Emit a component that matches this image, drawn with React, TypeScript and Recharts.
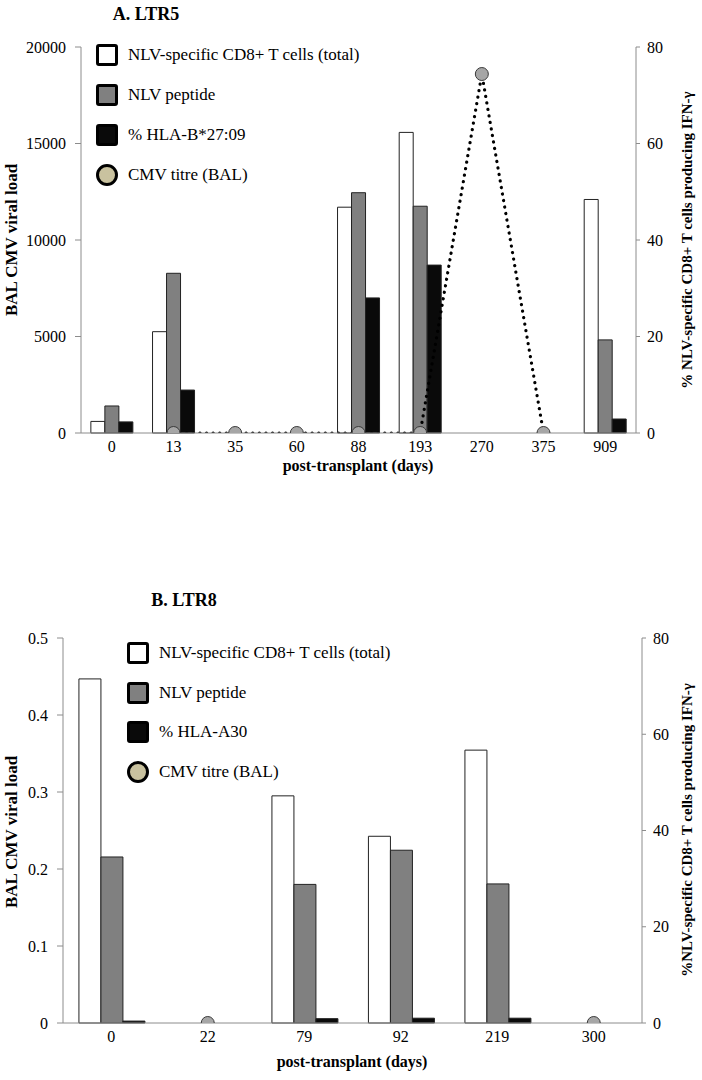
// Two-panel figure: NLV-specific CD8+ T cell responses vs BAL CMV titre (LTR5, LTR8)
import { ComposedChart, Bar, Line, XAxis, YAxis } from 'recharts'

const FONT = 'Liberation Serif, DejaVu Serif, serif'

// Panel A: LTR5
const daysA = ['0', '13', '35', '60', '88', '193', '270', '375', '909']
const totalA = [2.4, 21.0, null, null, 46.8, 62.3, null, null, 48.4]
const peptideA = [5.6, 33.1, null, null, 49.8, 47.0, null, null, 19.3]
const hlaA = [2.3, 8.9, null, null, 28.0, 34.8, null, null, 2.9]
const titreA = [null, 0, 0, 0, 0, 0, 18600, 0, null]

// Panel B: LTR8
const daysB = ['0', '22', '79', '92', '219', '300']
const totalB = [71.5, null, 47.2, 38.8, 56.7, null]
const peptideB = [34.5, null, 28.8, 35.9, 28.9, null]
const hlaB = [0.4, null, 0.9, 1.0, 1.0, null]
const titreB = [null, 0, null, null, null, 0]

const leftTicksA = [0, 5000, 10000, 15000, 20000]
const leftTicksB = [0, 0.1, 0.2, 0.3, 0.4, 0.5]
const rightTicks = [0, 20, 40, 60, 80]

const COLORS = { total: '#ffffff', peptide: '#808080', hla: '#0a0a0a', dot: '#a6a6a6', legendDot: '#c9c29f' }
const AXIS = '#8c8c8c'

const build = (days: string[], total: any[], peptide: any[], hla: any[], titre: any[]) =>
  days.map((d, i) => ({ day: d, total: total[i], peptide: peptide[i], hla: hla[i], titre: titre[i] }))

const tickStyle = { fill: '#000', fontSize: 16, fontFamily: FONT }

// circle marker drawn by hand so it doesn't inherit the line's dash pattern
const TitreDot = (props: any) => {
  const { cx, cy, value, index } = props
  if (value == null || cx == null || cy == null) return <g key={index} />
  return <circle key={index} cx={cx} cy={cy} r={6.5} fill={COLORS.dot} stroke="#3a3a3a" strokeWidth={1} />
}

function Legend({ x, y, gap, labels }: { x: number; y: number; gap: number; labels: string[] }) {
  const fills = [COLORS.total, COLORS.peptide, COLORS.hla, COLORS.legendDot]
  return (
    <>
      {labels.map((l, i) => (
        <div key={i} style={{ position: 'absolute', left: x, top: y + i * gap - 11, height: 22, display: 'flex', alignItems: 'center' }}>
          <div
            style={{
              width: 16,
              height: 16,
              background: fills[i],
              border: '3px solid #000',
              borderRadius: i === 3 ? '50%' : 3,
            }}
          />
          <span style={{ marginLeft: 10, fontSize: 17, fontFamily: FONT, whiteSpace: 'nowrap' }}>{l}</span>
        </div>
      ))}
    </>
  )
}

function VText({ x, y, text, size = 15 }: { x: number; y: number; text: string; size?: number }) {
  return (
    <div
      style={{
        position: 'absolute',
        left: x,
        top: y,
        transform: 'translate(-50%, -50%) rotate(-90deg)',
        fontFamily: FONT,
        fontWeight: 'bold',
        fontSize: size,
        whiteSpace: 'nowrap',
      }}
    >
      {text}
    </div>
  )
}

function HText({ x, y, text, size = 15 }: { x: number; y: number; text: string; size?: number }) {
  return (
    <div
      style={{
        position: 'absolute',
        left: x,
        top: y,
        transform: 'translate(-50%, -50%)',
        fontFamily: FONT,
        fontWeight: 'bold',
        fontSize: size,
        whiteSpace: 'nowrap',
      }}
    >
      {text}
    </div>
  )
}

function Panel({ data, top, height, margin, leftDomain, leftTicks, leftWidth, gap }: any) {
  return (
    <div style={{ position: 'absolute', left: 0, top }}>
      <ComposedChart width={702} height={height} data={data} margin={margin} barCategoryGap={gap} barGap={0}>
        <XAxis dataKey="day" tickLine={false} axisLine={{ stroke: AXIS }} tick={tickStyle} height={30} interval={0} />
        <YAxis
          yAxisId="left"
          domain={leftDomain}
          ticks={leftTicks}
          width={leftWidth}
          tick={tickStyle}
          tickSize={6}
          tickMargin={9}
          axisLine={{ stroke: AXIS }}
          tickLine={{ stroke: AXIS }}
          allowDataOverflow
        />
        <YAxis
          yAxisId="right"
          orientation="right"
          domain={[0, 80]}
          ticks={rightTicks}
          width={40}
          tick={tickStyle}
          tickSize={4}
          tickMargin={7}
          axisLine={{ stroke: AXIS }}
          tickLine={{ stroke: AXIS }}
        />
        <Bar yAxisId="right" dataKey="total" fill={COLORS.total} stroke="#222" strokeWidth={1} isAnimationActive={false} />
        <Bar yAxisId="right" dataKey="peptide" fill={COLORS.peptide} stroke="#222" strokeWidth={1} isAnimationActive={false} />
        <Bar yAxisId="right" dataKey="hla" fill={COLORS.hla} stroke="#222" strokeWidth={1} isAnimationActive={false} />
        <Line
          yAxisId="left"
          dataKey="titre"
          type="linear"
          stroke="#000"
          strokeWidth={3.2}
          strokeDasharray="0.1 6.5"
          strokeLinecap="round"
          dot={TitreDot}
          activeDot={false}
          isAnimationActive={false}
        />
      </ComposedChart>
    </div>
  )
}

export default function App() {
  const dataA = build(daysA, totalA, peptideA, hlaA, titreA)
  const dataB = build(daysB, totalB, peptideB, hlaB, titreB)
  return (
    <div style={{ position: 'absolute', left: 0, top: 0, width: 702, height: 1080, background: '#fff' }}>
      <Panel
        data={dataA}
        top={0}
        height={480}
        margin={{ top: 47, right: 26, bottom: 17, left: 21 }}
        leftDomain={[0, 20000]}
        leftTicks={leftTicksA}
        leftWidth={60}
        gap="16%"
      />
      <Panel
        data={dataB}
        top={540}
        height={540}
        margin={{ top: 98, right: 20, bottom: 27, left: 19 }}
        leftDomain={[0, 0.5]}
        leftTicks={leftTicksB}
        leftWidth={44}
        gap="16.5%"
      />
      <HText x={146} y={14} text="A. LTR5" size={18} />
      <HText x={184} y={600} text="B. LTR8" size={18} />
      <Legend
        x={96}
        y={55}
        gap={40}
        labels={['NLV-specific CD8+ T cells (total)', 'NLV peptide', '% HLA-B*27:09', 'CMV titre (BAL)']}
      />
      <Legend
        x={127}
        y={653}
        gap={39.5}
        labels={['NLV-specific CD8+ T cells (total)', 'NLV peptide', '% HLA-A30', 'CMV titre (BAL)']}
      />
      <VText x={12} y={240} text="BAL CMV viral load" size={17} />
      <VText x={687} y={240} text="% NLV-specific CD8+ T cells producing IFN-γ" />
      <HText x={358} y={466} text="post-transplant (days)" size={16} />
      <VText x={12} y={832} text="BAL CMV viral load" size={17} />
      <VText x={687} y={830} text="%NLV-specific CD8+ T cells producing IFN-γ" />
      <HText x={352} y={1062} text="post-transplant (days)" size={16} />
    </div>
  )
}
